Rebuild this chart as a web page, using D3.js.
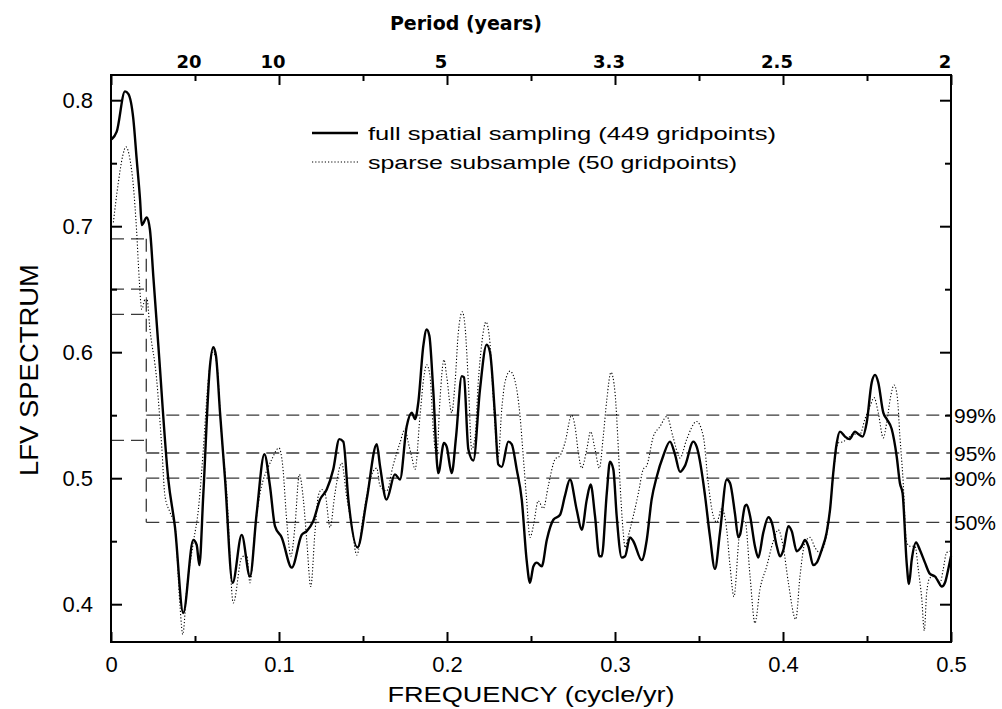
<!DOCTYPE html>
<html>
<head>
<meta charset="utf-8">
<script src="https://cdn.jsdelivr.net/npm/d3@7"></script>
<style>
  html, body { margin: 0; padding: 0; background: #fff; }
  svg { display: block; }
</style>
</head>
<body>
<svg id="chart" width="1002" height="709"></svg>
<script>
// LFV spectrum, full grid (solid) vs sparse subsample (dotted): [frequency, spectrum]
const fullSampling = [
  [0.0004,0.769],[0.0034,0.775],[0.0083,0.807],[0.0103,0.805],[0.0133,0.785],[0.0153,0.753],
  [0.0173,0.721],[0.0183,0.701],[0.0213,0.707],[0.0232,0.697],[0.0252,0.660],[0.0282,0.605],
  [0.0341,0.499],[0.0381,0.461],[0.0430,0.393],[0.0490,0.451],[0.0510,0.447],[0.0526,0.431],
  [0.0549,0.486],[0.0589,0.589],[0.0609,0.604],[0.0625,0.597],[0.0649,0.552],[0.0679,0.499],
  [0.0724,0.417],[0.0778,0.455],[0.0827,0.422],[0.0867,0.472],[0.0913,0.519],[0.0946,0.494],
  [0.0976,0.462],[0.1016,0.453],[0.1076,0.429],[0.1135,0.455],[0.1165,0.458],[0.1204,0.466],
  [0.1244,0.483],[0.1284,0.491],[0.1323,0.507],[0.1359,0.531],[0.1383,0.529],[0.1413,0.483],
  [0.1467,0.445],[0.1522,0.483],[0.1582,0.527],[0.1601,0.510],[0.1640,0.483],[0.1690,0.503],
  [0.1720,0.499],[0.1760,0.541],[0.1790,0.552],[0.1810,0.547],[0.1829,0.560],[0.1859,0.605],
  [0.1879,0.618],[0.1895,0.613],[0.1918,0.570],[0.1948,0.504],[0.1982,0.528],[0.1998,0.525],
  [0.2028,0.504],[0.2054,0.533],[0.2088,0.581],[0.2101,0.580],[0.2127,0.523],[0.2157,0.514],
  [0.2196,0.570],[0.2236,0.606],[0.2256,0.600],[0.2286,0.549],[0.2305,0.511],[0.2326,0.509],
  [0.2365,0.529],[0.2385,0.527],[0.2415,0.507],[0.2445,0.483],[0.2474,0.435],[0.2494,0.417],
  [0.2514,0.430],[0.2534,0.433],[0.2564,0.430],[0.2594,0.451],[0.2633,0.467],[0.2673,0.471],
  [0.2702,0.486],[0.2732,0.499],[0.2772,0.475],[0.2802,0.459],[0.2832,0.483],[0.2855,0.495],
  [0.2881,0.470],[0.2907,0.438],[0.2921,0.438],[0.2951,0.488],[0.2970,0.513],[0.2990,0.507],
  [0.3010,0.470],[0.3040,0.437],[0.3060,0.438],[0.3089,0.453],[0.3109,0.450],[0.3159,0.435],
  [0.3189,0.451],[0.3218,0.483],[0.3248,0.501],[0.3288,0.518],[0.3327,0.529],[0.3357,0.519],
  [0.3387,0.505],[0.3417,0.510],[0.3466,0.529],[0.3486,0.525],[0.3526,0.496],[0.3536,0.486],
  [0.3565,0.454],[0.3595,0.428],[0.3625,0.457],[0.3665,0.499],[0.3685,0.496],[0.3714,0.472],
  [0.3734,0.453],[0.3744,0.455],[0.3774,0.478],[0.3784,0.479],[0.3804,0.470],[0.3833,0.446],
  [0.3853,0.437],[0.3883,0.457],[0.3913,0.469],[0.3933,0.465],[0.3963,0.446],[0.3982,0.438],
  [0.4002,0.443],[0.4032,0.462],[0.4052,0.458],[0.4082,0.442],[0.4111,0.446],[0.4131,0.451],
  [0.4151,0.446],[0.4180,0.431],[0.4201,0.433],[0.4230,0.443],[0.4260,0.457],[0.4280,0.475],
  [0.4299,0.504],[0.4320,0.528],[0.4339,0.537],[0.4369,0.533],[0.4395,0.531],[0.4429,0.537],
  [0.4448,0.535],[0.4474,0.533],[0.4498,0.544],[0.4528,0.576],[0.4548,0.582],[0.4567,0.576],
  [0.4597,0.552],[0.4617,0.547],[0.4647,0.539],[0.4677,0.517],[0.4696,0.496],[0.4712,0.488],
  [0.4736,0.433],[0.4750,0.416],[0.4766,0.435],[0.4792,0.449],[0.4815,0.443],[0.4845,0.433],
  [0.4875,0.424],[0.4905,0.422],[0.4924,0.418],[0.4945,0.414],[0.4964,0.417],[0.4984,0.428],
  [0.5000,0.438]
];

const sparseSubsample = [
  [0.0014,0.703],[0.0043,0.734],[0.0070,0.756],[0.0089,0.763],[0.0113,0.753],[0.0133,0.732],
  [0.0153,0.695],[0.0168,0.658],[0.0183,0.634],[0.0202,0.642],[0.0213,0.643],[0.0232,0.618],
  [0.0272,0.578],[0.0302,0.525],[0.0321,0.486],[0.0351,0.473],[0.0381,0.462],[0.0411,0.398],
  [0.0427,0.376],[0.0451,0.412],[0.0490,0.449],[0.0520,0.475],[0.0548,0.520],[0.0577,0.575],
  [0.0607,0.600],[0.0631,0.590],[0.0655,0.540],[0.0689,0.488],[0.0728,0.401],[0.0778,0.437],
  [0.0808,0.439],[0.0827,0.417],[0.0857,0.459],[0.0887,0.488],[0.0907,0.499],[0.0927,0.506],
  [0.0957,0.515],[0.1000,0.524],[0.1022,0.510],[0.1046,0.466],[0.1071,0.438],[0.1095,0.462],
  [0.1121,0.503],[0.1145,0.483],[0.1165,0.451],[0.1189,0.414],[0.1214,0.457],[0.1234,0.486],
  [0.1254,0.491],[0.1274,0.488],[0.1304,0.461],[0.1333,0.488],[0.1373,0.512],[0.1403,0.485],
  [0.1433,0.462],[0.1463,0.439],[0.1502,0.470],[0.1542,0.499],[0.1582,0.508],[0.1601,0.494],
  [0.1641,0.490],[0.1679,0.510],[0.1720,0.528],[0.1750,0.539],[0.1770,0.528],[0.1790,0.517],
  [0.1810,0.507],[0.1839,0.549],[0.1863,0.581],[0.1879,0.590],[0.1899,0.581],[0.1918,0.539],
  [0.1939,0.517],[0.1958,0.562],[0.1982,0.594],[0.1998,0.581],[0.2028,0.552],[0.2048,0.576],
  [0.2067,0.615],[0.2091,0.632],[0.2107,0.621],[0.2127,0.576],[0.2147,0.523],[0.2167,0.533],
  [0.2186,0.576],[0.2207,0.607],[0.2232,0.624],[0.2256,0.607],[0.2276,0.562],[0.2305,0.517],
  [0.2326,0.555],[0.2345,0.576],[0.2375,0.585],[0.2405,0.577],[0.2435,0.549],[0.2454,0.517],
  [0.2474,0.483],[0.2494,0.453],[0.2514,0.462],[0.2543,0.482],[0.2573,0.476],[0.2603,0.494],
  [0.2643,0.515],[0.2673,0.518],[0.2702,0.528],[0.2742,0.550],[0.2762,0.541],[0.2782,0.520],
  [0.2802,0.508],[0.2832,0.523],[0.2855,0.537],[0.2881,0.523],[0.2907,0.508],[0.2930,0.533],
  [0.2951,0.562],[0.2976,0.584],[0.3000,0.568],[0.3020,0.523],[0.3030,0.496],[0.3049,0.457],
  [0.3060,0.445],[0.3079,0.454],[0.3109,0.470],[0.3139,0.488],[0.3168,0.507],[0.3189,0.510],
  [0.3228,0.533],[0.3268,0.541],[0.3308,0.549],[0.3347,0.532],[0.3387,0.516],[0.3427,0.531],
  [0.3486,0.545],[0.3526,0.533],[0.3555,0.496],[0.3585,0.470],[0.3606,0.465],[0.3635,0.476],
  [0.3665,0.459],[0.3685,0.430],[0.3708,0.406],[0.3740,0.454],[0.3774,0.466],[0.3804,0.422],
  [0.3833,0.385],[0.3863,0.412],[0.3903,0.430],[0.3942,0.450],[0.3972,0.459],[0.4002,0.445],
  [0.4032,0.417],[0.4076,0.388],[0.4101,0.422],[0.4131,0.449],[0.4161,0.453],[0.4190,0.445],
  [0.4220,0.441],[0.4260,0.455],[0.4280,0.475],[0.4299,0.503],[0.4329,0.528],[0.4359,0.529],
  [0.4389,0.532],[0.4418,0.535],[0.4458,0.535],[0.4488,0.547],[0.4518,0.557],[0.4542,0.564],
  [0.4567,0.552],[0.4597,0.532],[0.4617,0.544],[0.4641,0.565],[0.4661,0.574],[0.4680,0.565],
  [0.4696,0.533],[0.4713,0.502],[0.4736,0.449],[0.4756,0.446],[0.4786,0.446],[0.4805,0.428],
  [0.4826,0.404],[0.4841,0.379],[0.4855,0.409],[0.4875,0.421],[0.4905,0.422],[0.4935,0.417],
  [0.4954,0.428],[0.4974,0.441],[0.4994,0.442]
];

// Significance levels: value below the break frequency, value above it
const levelNames = ["99%", "95%", "90%", "50%"];
const levelsLowFreq = [0.69, 0.65, 0.63, 0.53];
const levelsHighFreq = [0.55, 0.52, 0.50, 0.465];
const levelBreakFreq = 0.021;

// Top axis: period in years at selected frequencies
const periodFreqs = [0.05, 0.1, 0.2, 0.3, 0.4, 0.5];
const periodLabels = ["20", "10", "5", "3.3", "2.5", "2"];

const legendLabels = ["full spatial sampling (449 gridpoints)", "sparse subsample (50 gridpoints)"];

const W = 1002, H = 709;
const margin = { left: 111, right: 51, top: 75, bottom: 67 };
const svg = d3.select("#chart");

const x = d3.scaleLinear().domain([0, 0.5]).range([margin.left, W - margin.right]);
const y = d3.scaleLinear().domain([0.37, 0.82]).range([H - margin.bottom, margin.top]);

const tickFont = "'Liberation Sans', Arial, sans-serif";

// Threshold lines
const dashStyle = g => g.attr("fill", "none").attr("stroke", "#3a3a3a")
  .attr("stroke-width", 1.3).attr("stroke-dasharray", "13,7");

const thr = svg.append("g");
levelsHighFreq.forEach((v, i) => {
  thr.append("line").call(dashStyle)
    .attr("x1", x(levelBreakFreq)).attr("x2", x(0.5))
    .attr("y1", y(v)).attr("y2", y(v));
  thr.append("line").call(dashStyle)
    .attr("x1", x(0)).attr("x2", x(levelBreakFreq))
    .attr("y1", y(levelsLowFreq[i])).attr("y2", y(levelsLowFreq[i]));
  svg.append("text")
    .attr("x", x(0.5) + 3).attr("y", y(v)).attr("dy", "0.36em")
    .attr("font-family", tickFont).attr("font-size", 21)
    .text(levelNames[i]);
});
thr.append("line").call(dashStyle)
  .attr("x1", x(levelBreakFreq)).attr("x2", x(levelBreakFreq))
  .attr("y1", y(d3.max(levelsLowFreq))).attr("y2", y(d3.min(levelsHighFreq)));

// Spectra
const line = d3.line().x(d => x(d[0])).y(d => y(d[1])).curve(d3.curveMonotoneX);

svg.append("path").datum(sparseSubsample)
  .attr("fill", "none").attr("stroke", "#000").attr("stroke-width", 1.1)
  .attr("stroke-dasharray", "1.2,2").attr("d", line);

svg.append("path").datum(fullSampling)
  .attr("fill", "none").attr("stroke", "#000").attr("stroke-width", 2.4)
  .attr("stroke-linejoin", "round").attr("d", line);

// Axes (ticks point inward)
const majorY = d3.range(0.4, 0.81, 0.1);
const minorY = d3.range(0.45, 0.8, 0.1);
const majorX = d3.range(0, 0.51, 0.1);
const minorX = d3.range(0.05, 0.5, 0.1);

function styleAxis(g) {
  g.select(".domain").remove();
  g.selectAll("line").attr("stroke", "#000").attr("stroke-width", 2);
  g.selectAll("text").attr("font-family", tickFont).attr("font-size", 22).attr("fill", "#000");
}

svg.append("g").attr("transform", `translate(${x(0)},0)`)
  .call(d3.axisLeft(y).tickValues(majorY).tickSize(-11).tickPadding(18).tickFormat(d3.format(".1f")))
  .call(styleAxis);
svg.append("g").attr("transform", `translate(${x(0)},0)`)
  .call(d3.axisLeft(y).tickValues(minorY).tickSize(-6).tickFormat(""))
  .call(styleAxis);
svg.append("g").attr("transform", `translate(${x(0.5)},0)`)
  .call(d3.axisRight(y).tickValues(majorY).tickSize(-11).tickFormat(""))
  .call(styleAxis);
svg.append("g").attr("transform", `translate(${x(0.5)},0)`)
  .call(d3.axisRight(y).tickValues(minorY).tickSize(-6).tickFormat(""))
  .call(styleAxis);

svg.append("g").attr("transform", `translate(0,${y(0.37)})`)
  .call(d3.axisBottom(x).tickValues(majorX).tickSize(-10).tickPadding(14)
    .tickFormat(d => d === 0 ? "0" : d3.format(".1f")(d)))
  .call(styleAxis);
svg.append("g").attr("transform", `translate(0,${y(0.37)})`)
  .call(d3.axisBottom(x).tickValues(minorX).tickSize(-6).tickFormat(""))
  .call(styleAxis);
svg.append("g").attr("transform", `translate(0,${y(0.82)})`)
  .call(d3.axisTop(x).tickValues(majorX).tickSize(-10).tickFormat(""))
  .call(styleAxis);
svg.append("g").attr("transform", `translate(0,${y(0.82)})`)
  .call(d3.axisTop(x).tickValues(minorX).tickSize(-6).tickFormat(""))
  .call(styleAxis);

// Period labels above the frame
const boldFont = "'DejaVu Sans', Verdana, sans-serif";
svg.append("g").selectAll("text").data(periodFreqs).join("text")
  .attr("x", d => x(d) - 6).attr("y", 68)
  .attr("text-anchor", "middle")
  .attr("font-family", boldFont).attr("font-weight", "bold").attr("font-size", 18)
  .text((d, i) => periodLabels[i]);

svg.append("text").attr("x", 466).attr("y", 30).attr("text-anchor", "middle")
  .attr("font-family", boldFont).attr("font-weight", "bold").attr("font-size", 19)
  .text("Period (years)");

// Frame
svg.append("rect")
  .attr("x", x(0)).attr("y", y(0.82))
  .attr("width", x(0.5) - x(0)).attr("height", y(0.37) - y(0.82))
  .attr("fill", "none").attr("stroke", "#000").attr("stroke-width", 2);

// Axis titles (wide lettering)
svg.append("text").attr("x", (x(0) + x(0.5)) / 2).attr("y", 702)
  .attr("text-anchor", "middle").attr("font-family", tickFont).attr("font-size", 22)
  .attr("textLength", 287).attr("lengthAdjust", "spacingAndGlyphs")
  .text("FREQUENCY (cycle/yr)");
svg.append("text")
  .attr("transform", `translate(38,370) rotate(-90)`)
  .attr("text-anchor", "middle").attr("font-family", tickFont).attr("font-size", 25)
  .attr("textLength", 212).attr("lengthAdjust", "spacingAndGlyphs")
  .text("LFV SPECTRUM");

// Legend
const legend = svg.append("g");
const legendRows = [
  { dash: null, width: 2.4, len: 408 },
  { dash: "1.2,2", width: 1.1, len: 369 }
];
legendRows.forEach((r, i) => {
  const ly = 133 + i * 29;
  legend.append("line").attr("x1", 312).attr("x2", 358).attr("y1", ly).attr("y2", ly)
    .attr("stroke", "#000").attr("stroke-width", r.width)
    .attr("stroke-dasharray", r.dash);
  legend.append("text").attr("x", 368).attr("y", ly).attr("dy", "0.35em")
    .attr("font-family", tickFont).attr("font-size", 19)
    .attr("textLength", r.len).attr("lengthAdjust", "spacingAndGlyphs")
    .text(legendLabels[i]);
});
</script>
</body>
</html>
